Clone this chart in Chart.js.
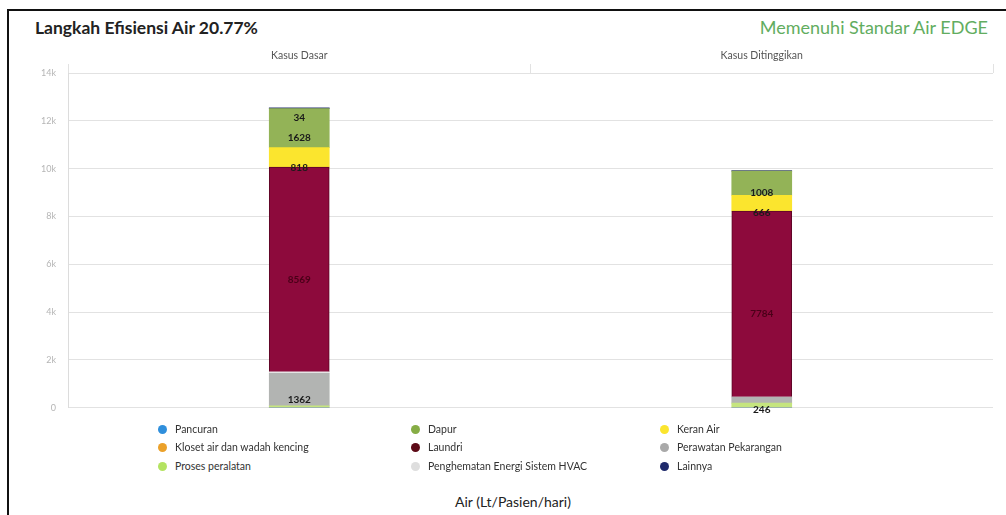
<!DOCTYPE html>
<html>
<head>
<meta charset="utf-8">
<script src="https://cdn.jsdelivr.net/npm/chart.js@4.4.0/dist/chart.umd.min.js"></script>
<style>
    body { margin: 0; background: #fff; font-family: Lato, sans-serif; }
    #wrap { position: relative; width: 1006px; height: 515px; overflow: hidden; }
    #frame { position: absolute; left: 7px; top: 9px; right: -4px; bottom: -4px; border-left: 2px solid #111; border-top: 2px solid #111; }
    #title { position: absolute; left: 35px; top: 17px; font-size: 17.5px; font-weight: bold; color: #222; }
    #status { position: absolute; right: 18px; top: 16px; font-size: 18px; color: #62ad60; }
    #chart { position: absolute; left: 0; top: 0; }
    .leg { position: absolute; font-size: 10.5px; color: #333; white-space: nowrap; }
    .leg span { display: inline-block; width: 9px; height: 9px; border-radius: 50%; margin-right: 8px; vertical-align: -1px; }
    #xtitle { position: absolute; left: 0; width: 1026px; top: 493px; text-align: center; font-size: 14px; color: #222; }
</style>
</head>
<body>
<div id="wrap">
    <div id="frame"></div>
    <div id="title">Langkah Efisiensi Air 20.77%</div>
    <div id="status">Memenuhi Standar Air EDGE</div>
    <canvas id="chart" width="1006" height="425"></canvas>
    <div id="legend"></div>
    <div id="xtitle">Air (Lt/Pasien/hari)</div>
</div>
<script>
// categories and values (Lt/Pasien/hari), stacked bottom to top
var categories = ['Kasus Dasar', 'Kasus Ditinggikan'];

var pancuran = [0, 0];
var kloset = [0, 0];
var proses = [70, 190];
var perawatan = [1362, 246];
var hvac = [60, 0];
var laundri = [8569, 7784];
var keranAir = [818, 666];
var dapur = [1628, 1008];
var lainnya = [34, 25];

var yTicks = [0, 2000, 4000, 6000, 8000, 10000, 12000, 14000];

var datasets = [
    { label: 'Pancuran', data: pancuran, backgroundColor: '#2f8fdc' },
    { label: 'Kloset air dan wadah kencing', data: kloset, backgroundColor: '#eba12a' },
    { label: 'Proses peralatan', data: proses, backgroundColor: '#c5e57f', legendColor: '#b4e361' },
    { label: 'Perawatan Pekarangan', data: perawatan, backgroundColor: '#b2b4b2', legendColor: '#a9a9a9' },
    { label: 'Penghematan Energi Sistem HVAC', data: hvac, backgroundColor: '#e6e6e6', legendColor: '#dedede' },
    { label: 'Laundri', data: laundri, backgroundColor: '#8d0a3c', legendColor: '#5c0a16', borderColor: '#5e0626', borderWidth: 1 },
    { label: 'Keran Air', data: keranAir, backgroundColor: '#fbe52e' },
    { label: 'Dapur', data: dapur, backgroundColor: '#93b357', legendColor: '#86ad45' },
    { label: 'Lainnya', data: lainnya, backgroundColor: '#2a3470', legendColor: '#1f2a6b' }
];
datasets.forEach(function (d) {
    d.stack = 's';
    d.barThickness = 60;
    if (!d.borderWidth) d.borderWidth = 0;
});

// legend layout (rows of three)
var legendOrder = [
    'Pancuran', 'Dapur', 'Keran Air',
    'Kloset air dan wadah kencing', 'Laundri', 'Perawatan Pekarangan',
    'Proses peralatan', 'Penghematan Energi Sistem HVAC', 'Lainnya'
];
var legendCols = [158, 411, 660];
var legendRows = [423, 441, 460];

var legendEl = document.getElementById('legend');
legendOrder.forEach(function (name, i) {
    var ds = datasets.find(function (d) { return d.label === name; });
    var el = document.createElement('div');
    el.className = 'leg';
    el.style.left = legendCols[i % 3] + 'px';
    el.style.top = legendRows[Math.floor(i / 3)] + 'px';
    el.innerHTML = '<span style="background:' + (ds.legendColor || ds.backgroundColor) + '"></span>' + name;
    legendEl.appendChild(el);
});

// value labels drawn a little below each segment's middle
var segmentLabels = {
    id: 'segmentLabels',
    afterDatasetsDraw: function (chart) {
        var ctx = chart.ctx;
        ctx.save();
        ctx.textAlign = 'center';
        ctx.textBaseline = 'middle';
        chart.data.datasets.forEach(function (ds, di) {
            if (ds.label === 'Proses peralatan' || ds.label === 'Penghematan Energi Sistem HVAC') return;
            chart.getDatasetMeta(di).data.forEach(function (bar, i) {
                var v = ds.data[i];
                if (v < 30) return;
                var mid = (bar.y + bar.base) / 2;
                ctx.font = 'bold 10px Lato';
                ctx.fillStyle = ds.label === 'Laundri' ? '#4a0018' : '#1a1a1a';
                ctx.fillText(String(v), bar.x, mid + 10);
            });
        });
        ctx.restore();
    }
};

var ctx = document.getElementById('chart').getContext('2d');
var waterChart = new Chart(ctx, {
    type: 'bar',
    data: {
        labels: categories,
        datasets: datasets
    },
    options: {
        responsive: false,
        animation: false,
        devicePixelRatio: 1,
        layout: {
            padding: { left: 0, right: 13, top: 30, bottom: 8 }
        },
        scales: {
            x: {
                position: 'top',
                stacked: true,
                offset: true,
                grid: {
                    offset: true,
                    drawOnChartArea: false,
                    drawTicks: true,
                    tickLength: 9,
                    color: '#e2e2e2'
                },
                border: { display: false },
                ticks: {
                    color: '#555',
                    font: { family: 'Lato', size: 10.5 },
                    padding: 2
                },
                afterFit: function (scale) { scale.height = 43; }
            },
            y: {
                stacked: true,
                min: 0,
                max: 14000,
                afterBuildTicks: function (scale) {
                    scale.ticks = yTicks.map(function (v) { return { value: v }; });
                },
                grid: {
                    color: '#e2e2e2',
                    drawTicks: false
                },
                border: { color: '#dcdcdc' },
                ticks: {
                    color: '#b5b5b5',
                    font: { family: 'Lato', size: 9 },
                    padding: 12,
                    callback: function (v) { return v === 0 ? '0' : (v / 1000) + 'k'; }
                },
                afterFit: function (scale) { scale.width = 68; }
            }
        },
        plugins: {
            title: { display: false },
            legend: { display: false },
            tooltip: { enabled: false }
        }
    },
    plugins: [segmentLabels]
});
</script>
</body>
</html>
